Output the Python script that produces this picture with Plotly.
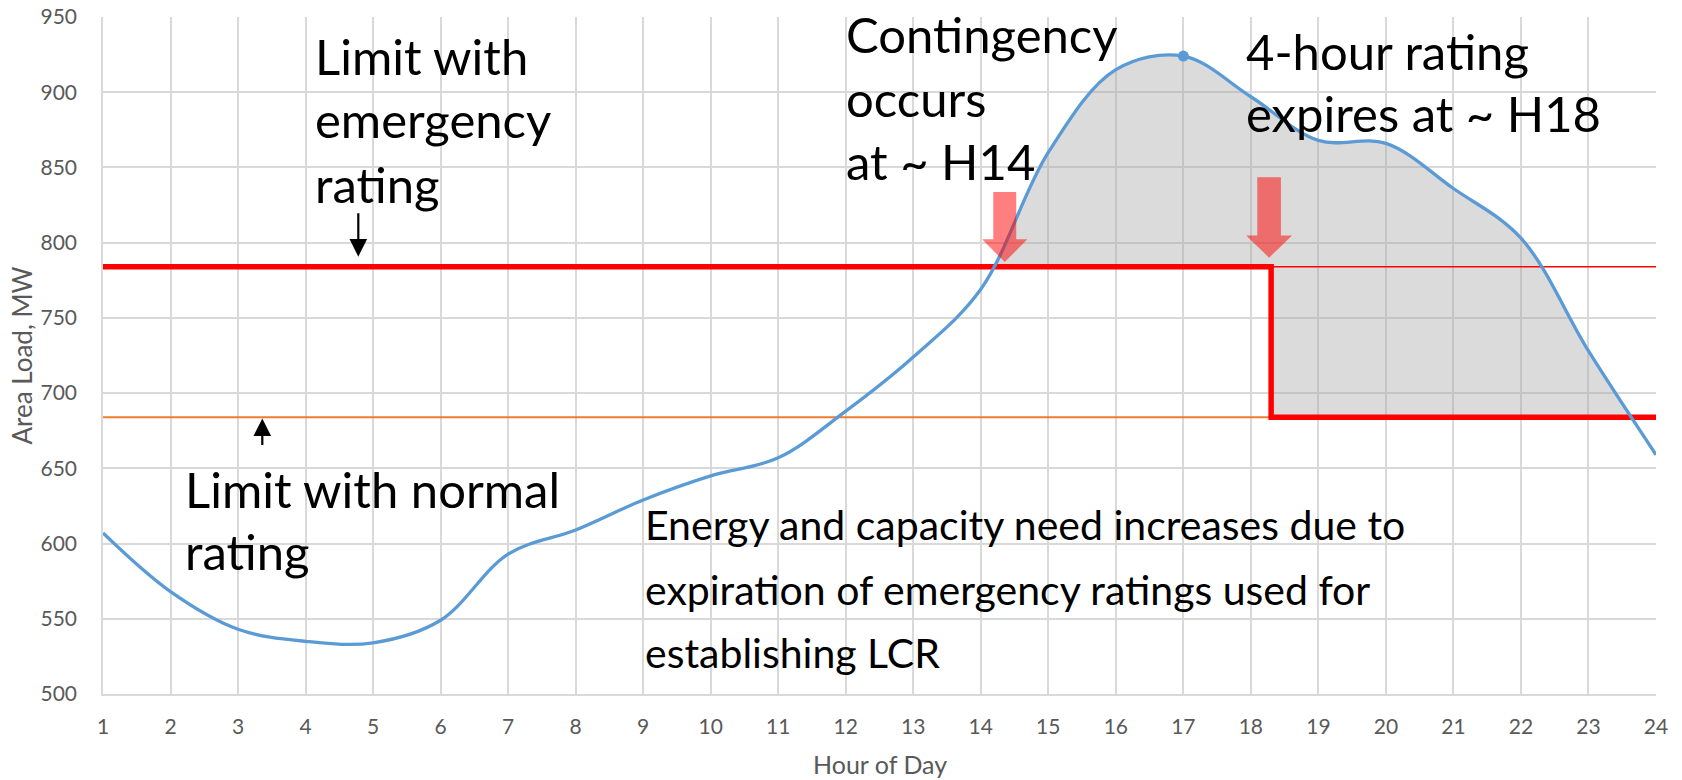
import plotly.graph_objects as go

# ---------------- data ----------------
hours = list(range(1, 25))
load_mw = [607, 568, 543, 535, 534, 549, 593, 609, 629, 645, 657, 688,
           724, 769, 860, 915, 924, 897, 868, 866, 836, 803, 728, 659]
emergency_limit = 784
normal_limit = 684
contingency_hour = 14.355
expiry_hour = 18.3
x_ticks = hours
y_ticks = [500, 550, 600, 650, 700, 750, 800, 850, 900, 950]

# ---------------- geometry ----------------
W, H = 1682, 780
ML, MR, MT, MB = 103, 26, 17, 86
PW, PH = W - ML - MR, H - MT - MB
X_RANGE = [1, 24]
Y_RANGE = [500, 950]


def px2x(px):
    return X_RANGE[0] + (px - ML) / PW * (X_RANGE[1] - X_RANGE[0])


def py2y(py):
    return Y_RANGE[1] - (py - MT) / PH * (Y_RANGE[1] - Y_RANGE[0])


def spline_samples(xs, ys, smoothing=1.0, steps=40):
    """Reproduce plotly's spline path (in pixel space) to shape the fill."""
    sx = PW / (X_RANGE[1] - X_RANGE[0])
    sy = PH / (Y_RANGE[1] - Y_RANGE[0])
    P = [((x - X_RANGE[0]) * sx, (Y_RANGE[1] - y) * sy) for x, y in zip(xs, ys)]

    def tangent(p0, p1, p2):
        d1x, d1y = p0[0] - p1[0], p0[1] - p1[1]
        d2x, d2y = p2[0] - p1[0], p2[1] - p1[1]
        d1a = (d1x * d1x + d1y * d1y) ** 0.25
        d2a = (d2x * d2x + d2y * d2y) ** 0.25
        numx = (d2a * d2a * d1x - d1a * d1a * d2x) * smoothing
        numy = (d2a * d2a * d1y - d1a * d1a * d2y) * smoothing
        den1 = 3 * d2a * (d1a + d2a)
        den2 = 3 * d1a * (d1a + d2a)
        return ((p1[0] + numx / den1, p1[1] + numy / den1),
                (p1[0] - numx / den2, p1[1] - numy / den2))

    T = [tangent(P[i - 1], P[i], P[i + 1]) for i in range(1, len(P) - 1)]
    segs = [(P[0], T[0][0], P[1])]
    for i in range(2, len(P) - 1):
        segs.append((P[i - 1], T[i - 2][1], T[i - 1][0], P[i]))
    segs.append((P[-2], T[-1][1], P[-1]))

    out = []
    for k, s in enumerate(segs):
        for j in range(steps + 1):
            if j == 0 and k > 0:
                continue
            t = j / steps
            if len(s) == 3:
                a, b, c = s
                px = (1 - t) ** 2 * a[0] + 2 * (1 - t) * t * b[0] + t * t * c[0]
                py = (1 - t) ** 2 * a[1] + 2 * (1 - t) * t * b[1] + t * t * c[1]
            else:
                a, b, c, d = s
                px = ((1 - t) ** 3 * a[0] + 3 * (1 - t) ** 2 * t * b[0]
                      + 3 * (1 - t) * t * t * c[0] + t ** 3 * d[0])
                py = ((1 - t) ** 3 * a[1] + 3 * (1 - t) ** 2 * t * b[1]
                      + 3 * (1 - t) * t * t * c[1] + t ** 3 * d[1])
            out.append((X_RANGE[0] + px / sx, Y_RANGE[1] - py / sy))
    return out


# ---------------- fill polygon (load above the applicable limit) ----------------
samples = spline_samples(hours, load_mw)
left = [(x, y) for x, y in samples if x < expiry_hour]
right = [(x, y) for x, y in samples if x > expiry_hour]
(xa, ya), (xb, yb) = left[-1], right[0]
y_exp = ya + (yb - ya) * (expiry_hour - xa) / (xb - xa)
left.append((expiry_hour, y_exp))
right.insert(0, (expiry_hour, y_exp))

fill_x = [p[0] for p in left] + [p[0] for p in right] + \
    [p[0] for p in reversed(right)] + [p[0] for p in reversed(left)]
fill_y = [max(p[1], emergency_limit) for p in left] + \
    [max(p[1], normal_limit) for p in right] + \
    [normal_limit] * len(right) + [emergency_limit] * len(left)

fig = go.Figure()

fig.add_trace(go.Scatter(x=fill_x, y=fill_y, mode="lines", fill="toself",
                         fillcolor="rgba(166,166,166,0.4)",
                         line=dict(width=0), hoverinfo="skip", showlegend=False))

# normal rating line (orange) before expiry
fig.add_trace(go.Scatter(x=[hours[0], expiry_hour], y=[normal_limit, normal_limit],
                         mode="lines", line=dict(color="#ed7d31", width=2),
                         showlegend=False))
# thin emergency line after expiry
fig.add_trace(go.Scatter(x=[expiry_hour, hours[-1]], y=[emergency_limit, emergency_limit],
                         mode="lines", line=dict(color="#ff0000", width=1.5),
                         showlegend=False))
# applicable limit (thick red step)
fig.add_trace(go.Scatter(x=[hours[0], expiry_hour, expiry_hour, hours[-1]],
                         y=[emergency_limit, emergency_limit, normal_limit, normal_limit],
                         mode="lines", line=dict(color="#ff0000", width=5.5),
                         showlegend=False))
# load curve
fig.add_trace(go.Scatter(x=hours, y=load_mw, mode="lines",
                         line=dict(color="#5b9bd5", width=3.3, shape="spline", smoothing=1),
                         showlegend=False))
# peak marker
ipk = load_mw.index(max(load_mw))
fig.add_trace(go.Scatter(x=[hours[ipk]], y=[load_mw[ipk]], mode="markers",
                         marker=dict(color="#5b9bd5", size=11), showlegend=False))


# ---------------- block arrows ----------------
def block_arrow(xc, y_top, y_base, y_tip, shaft_hw, head_hw):
    return (f"M {xc - shaft_hw},{y_top} L {xc + shaft_hw},{y_top} "
            f"L {xc + shaft_hw},{y_base} L {xc + head_hw},{y_base} "
            f"L {xc},{y_tip} L {xc - head_hw},{y_base} "
            f"L {xc - shaft_hw},{y_base} Z")


shapes = [
    dict(type="path", xref="x", yref="y", layer="above",
         path=block_arrow(contingency_hour, emergency_limit + 49.6, emergency_limit + 18.2,
                          emergency_limit + 3.1, 0.17, 0.335),
         fillcolor="rgba(255,0,0,0.5)", line=dict(width=0)),
    dict(type="path", xref="x", yref="y", layer="above",
         path=block_arrow(expiry_hour - 0.03, emergency_limit + 59.4, emergency_limit + 20.8,
                          emergency_limit + 6.0, 0.175, 0.34),
         fillcolor="rgba(255,0,0,0.5)", line=dict(width=0)),
]

# ---------------- text ----------------
FS = 49
FS_E = 41
text_lines = [
    ("Limit with", 316.7, 75.0, FS),
    ("emergency", 316.7, 138.3, FS),
    ("rating", 316.7, 202.7, FS),
    ("Limit with normal", 186.7, 508.3, FS),
    ("rating", 186.7, 570.0, FS),
    ("Contingency", 848.3, 53.3, FS),
    ("occurs", 848.3, 116.7, FS),
    ("at ~ H14", 848.3, 180.0, FS),
    ("4-hour rating", 1248.3, 70.0, FS),
    ("expires at ~ H18", 1248.3, 131.7, FS),
    ("Energy and capacity need increases due to", 647.3, 540.0, FS_E),
    ("expiration of emergency ratings used for", 647.3, 605.0, FS_E),
    ("establishing LCR", 647.3, 668.3, FS_E),
]
annotations = []
for t, lx, by, fs in text_lines:
    annotations.append(dict(text=t, x=px2x(lx - 4), y=py2y(by - 0.387 * fs),
                            xref="x", yref="y", xanchor="left", yanchor="middle",
                            showarrow=False,
                            font=dict(family="Lato", size=fs, color="#000000")))

# small black pointer arrows
annotations.append(dict(x=px2x(358.3), y=py2y(256.7), xref="x", yref="y", text="",
                        showarrow=True, ax=0, ay=-45, arrowhead=2, arrowsize=1.6,
                        arrowwidth=2.2, arrowcolor="#000000", standoff=0))
annotations.append(dict(x=px2x(262.3), y=py2y(418.5), xref="x", yref="y", text="",
                        showarrow=True, ax=0, ay=28, arrowhead=2, arrowsize=1.6,
                        arrowwidth=2.2, arrowcolor="#000000", standoff=0))

# axis titles
annotations.append(dict(text="Hour of Day", x=0.5, y=-(764 - (H - MB)) / PH,
                        xref="paper", yref="paper", xanchor="center", yanchor="middle",
                        showarrow=False, font=dict(family="Lato", size=25, color="#595959")))
annotations.append(dict(text="Area Load, MW", x=(21 - ML) / PW, y=0.5,
                        xref="paper", yref="paper", xanchor="center", yanchor="middle",
                        textangle=-90, showarrow=False,
                        font=dict(family="Lato", size=26, color="#595959")))

fig.update_layout(
    width=W, height=H,
    margin=dict(l=ML, r=MR, t=MT, b=MB),
    paper_bgcolor="white", plot_bgcolor="white",
    shapes=shapes, annotations=annotations,
    font=dict(family="Lato", color="#595959"),
    xaxis=dict(range=X_RANGE, tickmode="array", tickvals=x_ticks,
               ticktext=[str(h) for h in x_ticks],
               showgrid=True, gridcolor="#d9d9d9", gridwidth=1.5,
               showline=True, linecolor="#d9d9d9", linewidth=1.5,
               zeroline=False, ticks="outside", ticklen=13, tickcolor="rgba(0,0,0,0)",
               tickfont=dict(family="Lato", size=21, color="#595959"),
               automargin=False, fixedrange=True),
    yaxis=dict(range=Y_RANGE, tickmode="array", tickvals=y_ticks,
               showgrid=True, gridcolor="#d9d9d9", gridwidth=1.5,
               showline=True, linecolor="#d9d9d9", linewidth=1.5,
               zeroline=False, ticks="outside", ticklen=20, tickcolor="rgba(0,0,0,0)",
               tickfont=dict(family="Lato", size=21, color="#595959"),
               automargin=False, fixedrange=True),
)

fig.write_html("out.html", config={"displayModeBar": False},
               post_script="document.body.style.margin='0';")
